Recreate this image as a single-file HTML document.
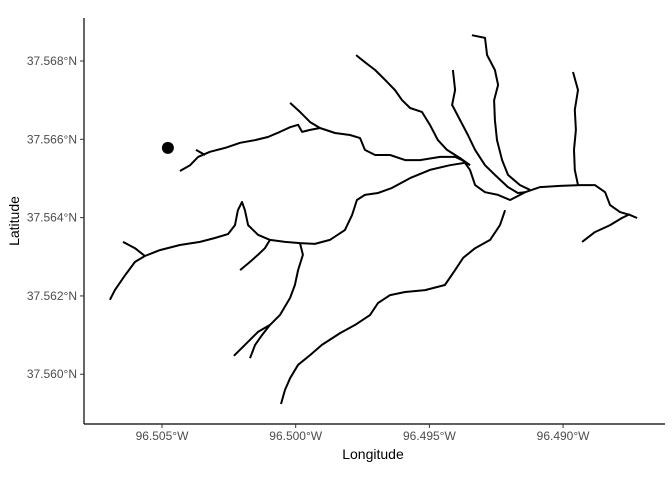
<!DOCTYPE html>
<html><head><meta charset="utf-8"><style>
body{margin:0;background:#fff}
svg{display:block;font-family:"Liberation Sans",sans-serif}
</style></head><body>
<svg id="chart" width="672" height="480">
<rect width="672" height="480" fill="#fff"/>
<g id="rivers"></g>
<g id="axes"></g>
</svg>
<script>
// longitude stored as a, where lonW = 96.5 + a/1e5; latitude as b, where lat = 37.56 + b/1e5
const riverMain = [[695,190],[676,215],[638,253],[601,287],[564,302],[508,317],[433,330],[358,338],[302,348],[253,358],[227,381],[216,419],[201,440],[190,419],[178,381],[141,356],[96,343],[40,338],[-16,335],[-72,333],[-128,343],[-184,368],[-211,407],[-229,445],[-259,458],[-308,463],[-360,476],[-428,501],[-502,522],[-577,534],[-633,540],[-652,522],[-671,483],[-708,465],[-757,458],[-802,445],[-858,465],[-914,478],[-989,481],[-1063,483],[-1119,483],[-1157,465],[-1176,432],[-1213,414],[-1250,407],[-1277,399]];
const riverWestSpur = [[646,338],[601,322],[564,302]];
const riverNorth = [[433,519],[395,534],[365,555],[321,568],[264,578],[208,591],[152,598],[104,606],[59,619],[21,631],[-9,637],[-24,619],[-54,624],[-91,629],[-147,616],[-203,611],[-241,603],[-259,573],[-297,560],[-353,560],[-409,547],[-465,547],[-540,555],[-596,555],[-622,547],[-652,534]];
const riverNorthSpur = [[373,573],[339,560]];
const riverNorthTrib = [[21,693],[-16,670],[-54,644],[-91,629]];
const riverC = [[-226,815],[-259,797],[-297,777],[-334,752],[-371,726],[-398,700],[-428,680],[-472,670],[-502,637],[-532,598],[-566,573],[-615,552],[-652,534]];
const riverD = [[-588,777],[-596,726],[-585,688],[-615,649],[-644,611],[-671,573],[-708,534],[-745,509],[-794,478],[-831,463],[-858,465]];
const riverE = [[-659,866],[-708,859],[-716,815],[-745,777],[-757,739],[-742,700],[-745,649],[-753,598],[-772,547],[-794,509],[-839,483],[-876,471]];
const riverF = [[-1037,772],[-1056,726],[-1044,675],[-1048,624],[-1041,573],[-1044,522],[-1056,483]];
const riverG = [[-1071,338],[-1119,363],[-1176,381],[-1220,399],[-1250,409]];
const riverH = [[-783,419],[-764,381],[-727,343],[-671,322],[-626,297],[-596,266],[-558,228],[-484,215],[-409,210],[-353,202],[-308,182],[-278,151],[-222,126],[-166,105],[-98,75],[-54,49],[-9,24],[21,-10],[40,-40],[55,-76]];
const riverI = [[-16,335],[-27,305],[-9,266],[3,228],[21,195],[59,151],[96,126],[126,100],[152,75],[171,41]];
const riverISpur = [[231,47],[190,75],[141,108],[96,126]];
const riverJ = [[208,266],[171,287],[141,305],[115,322],[96,343]];
const sitePoint = [478,578];
const xTicks = [500,0,-500,-1000];
const xTickLabels = ["96.505°W","96.500°W","96.495°W","96.490°W"];
const yTicks = [800,600,400,200,0];
const yTickLabels = ["37.568°N","37.566°N","37.564°N","37.562°N","37.560°N"];

function sx(a){return (1105.9-a)/3.74;}
function sy(b){return (955.8-b)/2.554;}
const NS="http://www.w3.org/2000/svg";
const rg=document.getElementById('rivers'), ag=document.getElementById('axes');
const rivers=[["river-main",riverMain],["river-west-spur",riverWestSpur],["river-north",riverNorth],["river-north-spur",riverNorthSpur],["river-north-tributary",riverNorthTrib],["river-c",riverC],["river-d",riverD],["river-e",riverE],["river-f",riverF],["river-g",riverG],["river-h",riverH],["river-i",riverI],["river-i-spur",riverISpur],["river-j",riverJ]];
rivers.forEach(([n,pts])=>{
  const p=document.createElementNS(NS,'polyline');
  p.setAttribute('points',pts.map(q=>sx(q[0]).toFixed(1)+','+sy(q[1]).toFixed(1)).join(' '));
  p.setAttribute('fill','none');p.setAttribute('stroke','#000');p.setAttribute('stroke-width','2');p.setAttribute('stroke-linejoin','round');
  
  
  rg.appendChild(p);
});
const c=document.createElementNS(NS,'circle');
c.setAttribute('cx',sx(sitePoint[0]));c.setAttribute('cy',sy(sitePoint[1]));c.setAttribute('r','6');c.setAttribute('fill','#000');


rg.appendChild(c);
function line(x1,y1,x2,y2,n,col,w){const l=document.createElementNS(NS,'line');l.setAttribute('x1',x1);l.setAttribute('y1',y1);l.setAttribute('x2',x2);l.setAttribute('y2',y2);l.setAttribute('stroke',col);l.setAttribute('stroke-width',w);
  
  
  ag.appendChild(l);}
function text(x,y,s,n,anchor,size,col,rot){const t=document.createElementNS(NS,'text');t.setAttribute('x',x);t.setAttribute('y',y);t.setAttribute('text-anchor',anchor);t.setAttribute('font-size',size);t.setAttribute('fill',col);if(rot)t.setAttribute('transform',rot);t.textContent=s;
  
  
  ag.appendChild(t);}
line(84,18,84,424,'y-axis-line','#000',1.2);
line(84,424,665,424,'x-axis-line','#000',1.2);
xTicks.forEach((v,i)=>{const x=sx(v);line(x,424,x,428,'x-tick','#333',1);text(x,440,xTickLabels[i],'x-tick-label','middle',12,'#4d4d4d');});
yTicks.forEach((v,i)=>{const y=sy(v);line(80,y,84,y,'y-tick','#333',1);text(77,y+4,yTickLabels[i],'y-tick-label','end',12,'#4d4d4d');});
text(373,459,'Longitude','x-axis-title','middle',14,'#000');
text(19,221,'Latitude','y-axis-title','middle',14,'#000','rotate(-90 19 221)');
</script>
</body></html>
